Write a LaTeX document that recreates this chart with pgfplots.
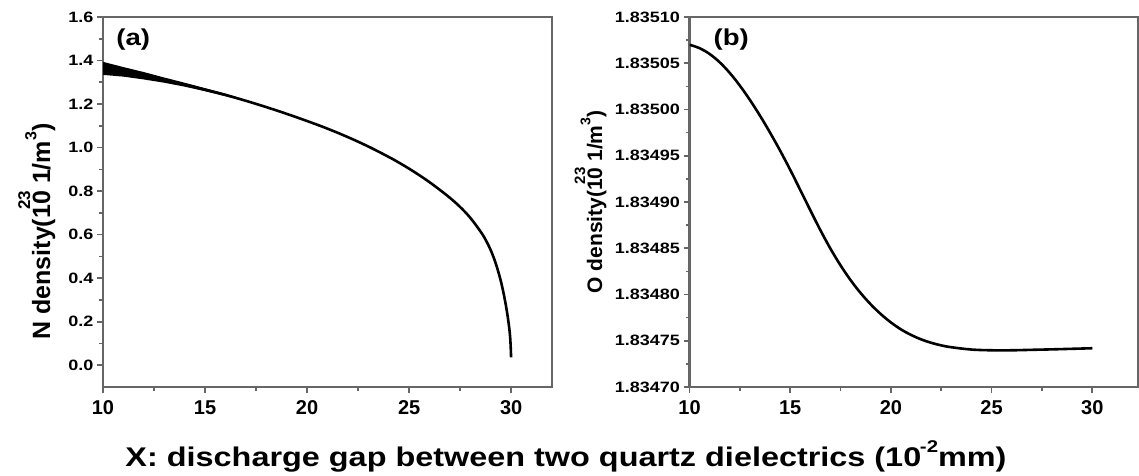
\documentclass[border=0pt]{standalone}
\usepackage{fontspec}
\setmainfont{Liberation Sans}
\newfontfamily\widesans{Liberation Sans}[FakeStretch=1.2]
\usepackage{pgfplots}
\pgfplotsset{compat=1.18}
\usepackage{pgfplotstable}

% N density (10^23 1/m^3) along the gap
\pgfplotstableread{
x y
10 1.364
11 1.348
12 1.330
13 1.310
14 1.289
15 1.266
16 1.242
17 1.215
18 1.186
19 1.155
20 1.122
21 1.087
22 1.048
23 1.005
24 0.957
24.5 0.931
25 0.903
25.5 0.873
26 0.841
26.5 0.806
27 0.769
27.5 0.727
28 0.677
28.5 0.614
28.75 0.576
29 0.528
29.25 0.466
29.5 0.384
29.7 0.296
29.85 0.210
29.95 0.128
29.995 0.036
}\Ndens

% oscillation envelope of the N density near the inlet (upper, then lower edge)
\pgfplotstableread{
x y
10 1.394
10.5 1.382
11 1.370
12 1.347
13 1.322
14 1.298
15 1.273
16 1.248
17 1.218
17 1.212
16 1.236
15 1.259
14 1.280
13 1.298
12 1.313
11 1.326
10.5 1.330
10 1.334
}\Nband

% O density: 1.83470 + dy * 1e-5 (10^23 1/m^3)
\pgfplotstableread{
x dy
10 37.0
10.5 36.63
11 36.0
11.5 35.1
12 33.95
12.5 32.58
13 31.03
13.5 29.33
14 27.5
14.5 25.55
15 23.48
15.5 21.3
16 19.1
16.5 16.95
17 14.95
17.5 13.15
18 11.55
18.5 10.15
19 8.93
19.5 7.88
20 6.98
20.5 6.23
21 5.63
21.5 5.15
22 4.78
22.5 4.5
23 4.3
24 4.05
25 3.97
26 3.97
27 4.02
28 4.07
29 4.13
30 4.19
}\Odens

\pgfplotsset{
  panel/.style={
    scale only axis, height=370pt, anchor=south west,
    xmin=10,
    xtick={10,15,20,25,30}, minor x tick num=1, minor y tick num=1,
    tick align=outside, xtick pos=bottom, ytick pos=left,
    major tick length=6pt, minor tick length=4pt,
    axis line style={black!60, line width=2.2pt},
    tick style={black!60, line width=1.6pt},
    /pgf/number format/assume math mode=true,
    xticklabel style={font=\bfseries\fontsize{20}{20}\selectfont, yshift=-4pt},
    yticklabel style={font=\widesans\bfseries\fontsize{15}{15}\selectfont},
    ylabel style={anchor=base},
  },
  curve/.style={black, line width=2.6pt, smooth, tension=0.6},
}

\begin{document}
\begin{tikzpicture}
\path[use as bounding box] (0,0) rectangle (1139pt,475pt);

% (a) N density
\begin{axis}[panel, at={(103pt,88pt)}, width=449pt, xmax=32,
  ymin=-0.1, ymax=1.6,
  ytick={0,0.2,0.4,0.6,0.8,1.0,1.2,1.4,1.6},
  yticklabel style={/pgf/number format/.cd, fixed, fixed zerofill, precision=1},
  ylabel={N density(10\llap{\raisebox{0.8em}{\fontsize{17}{17}\selectfont 23}} 1/m\raisebox{0.55em}{\fontsize{16}{16}\selectfont 3})},
  ylabel style={font=\bfseries\fontsize{25}{25}\selectfont, at={(axis description cs:-0.118,0.42)}},
]
\addplot[fill=black, draw=none] table {\Nband} -- cycle;
\addplot[curve] table {\Ndens};
\node[anchor=base west, font=\widesans\bfseries\fontsize{23}{23}\selectfont]
  at (axis description cs:0.022,0.924) {(a)};
\end{axis}

% (b) O density
\begin{axis}[panel, at={(689.5pt,88pt)}, width=448.5pt, xmax=32.27,
  ymin=0, ymax=40,
  ytick={0,5,10,15,20,25,30,35,40},
  yticklabels={1.83470,1.83475,1.83480,1.83485,1.83490,1.83495,1.83500,1.83505,1.83510},
  ylabel={O density(10\llap{\raisebox{0.8em}{\fontsize{15}{15}\selectfont 23}} 1/m\raisebox{0.55em}{\fontsize{14}{14}\selectfont 3})},
  ylabel style={font=\bfseries\fontsize{21}{21}\selectfont, at={(axis description cs:-0.195,0.5)}},
]
\addplot[curve] table[x=x, y=dy] {\Odens};
\node[anchor=base west, font=\widesans\bfseries\fontsize{23}{23}\selectfont]
  at (axis description cs:0.046,0.924) {(b)};
\end{axis}

\node[anchor=base, font=\widesans\bfseries\fontsize{27}{27}\selectfont]
  at (566pt,9pt) {X: discharge gap between two quartz dielectrics (10\kern-0.05em\raisebox{0.5em}{\fontsize{17}{17}\selectfont -2}mm)};
\end{tikzpicture}
\end{document}
